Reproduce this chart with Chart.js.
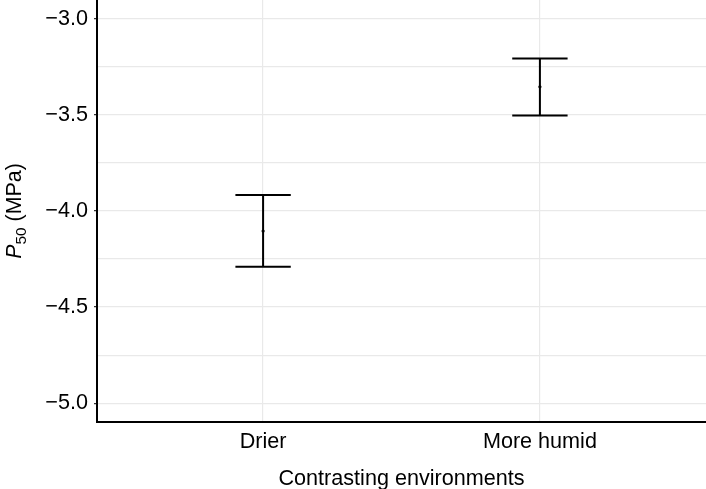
<!DOCTYPE html>
<html>
<head>
<meta charset="utf-8">
<script src="https://cdn.jsdelivr.net/npm/chart.js@4.4.1/dist/chart.umd.min.js"></script>
<style>
html,body{margin:0;padding:0;background:#fff;overflow:hidden;}
#c{display:block;}
</style>
</head>
<body>
<canvas id="c" width="706" height="489"></canvas>
<script>
// Data
const categories = ["Drier", "More humid"];
const means = [-4.104, -3.354];
const lowers = [-4.290, -3.503];
const uppers = [-3.917, -3.206];
const yTicks = [-5.0, -4.75, -4.5, -4.25, -4.0, -3.75, -3.5, -3.25, -3.0];
const yMajor = [-5.0, -4.5, -4.0, -3.5, -3.0];

const FONT = "'Liberation Sans', Arial, Helvetica, sans-serif";
const FS = 21.6;

const errorBars = {
  id: 'errorBars',
  afterDatasetsDraw(chart) {
    const ctx = chart.ctx, xs = chart.scales.x, ys = chart.scales.y;
    ctx.save();
    ctx.strokeStyle = '#000';
    ctx.lineWidth = 2;
    categories.forEach((c, i) => {
      const x = xs.getPixelForValue(i + 1);
      const xl = xs.getPixelForValue(i + 1 - 0.1);
      const xr = xs.getPixelForValue(i + 1 + 0.1);
      const yl = ys.getPixelForValue(lowers[i]);
      const yu = ys.getPixelForValue(uppers[i]);
      ctx.beginPath();
      ctx.moveTo(x, yl); ctx.lineTo(x, yu);
      ctx.moveTo(xl, yl); ctx.lineTo(xr, yl);
      ctx.moveTo(xl, yu); ctx.lineTo(xr, yu);
      ctx.stroke();
    });
    ctx.restore();
  }
};

const yTitle = {
  id: 'yTitle',
  afterDraw(chart) {
    const ctx = chart.ctx, area = chart.chartArea;
    ctx.save();
    ctx.fillStyle = '#000';
    ctx.textBaseline = 'alphabetic';
    const cy = (area.top + area.bottom) / 2;
    ctx.translate(21, cy);
    ctx.rotate(-Math.PI / 2);
    const F = 21.4;
    const f1 = "italic " + F + "px " + FONT, f2 = (F * 0.72) + "px " + FONT, f3 = F + "px " + FONT;
    ctx.font = f1; const w1 = ctx.measureText("P").width;
    ctx.font = f2; const w2 = ctx.measureText("50").width;
    ctx.font = f3; const w3 = ctx.measureText(" (MPa)").width;
    let x = -(w1 + w2 + w3) / 2;
    ctx.font = f1; ctx.fillText("P", x, 0); x += w1;
    ctx.font = f2; ctx.fillText("50", x, 4.5); x += w2;
    ctx.font = f3; ctx.fillText(" (MPa)", x, 0);
    ctx.restore();
  }
};

new Chart(document.getElementById('c'), {
  type: 'scatter',
  data: {
    datasets: [{
      data: means.map((m, i) => ({ x: i + 1, y: m })),
      pointRadius: 1.6,
      pointBackgroundColor: '#000',
      pointBorderColor: '#000',
      pointBorderWidth: 0
    }]
  },
  options: {
    responsive: false,
    animation: false,
    devicePixelRatio: 1,
    layout: { padding: 0, autoPadding: false },
    plugins: { legend: { display: false }, tooltip: { enabled: false } },
    scales: {
      x: {
        type: 'linear',
        min: 0.4, max: 2.6,
        afterBuildTicks: s => { s.ticks = categories.map((c, i) => ({ value: i + 1 })); },
        afterFit: s => { s.height = 67; s.paddingLeft = 0; s.paddingRight = 0; },
        ticks: {
          callback: (v) => categories[v - 1],
          color: '#000',
          font: { family: FONT, size: FS },
          padding: 7,
          maxRotation: 0, autoSkip: false
        },
        grid: { color: '#e9e9e9', lineWidth: 1.2, drawTicks: false },
        border: { color: '#000', width: 2 },
        title: {
          display: true, text: 'Contrasting environments',
          color: '#000', font: { family: FONT, size: FS },
          padding: { top: 0.5, bottom: -3.5 }
        }
      },
      y: {
        type: 'linear',
        min: -5.098, max: -2.902,
        afterBuildTicks: s => { s.ticks = yTicks.map(v => ({ value: v })); },
        afterFit: s => { s.width = 97; s.paddingTop = 0; s.paddingBottom = 0; },
        ticks: {
          callback: (v) => yMajor.some(m => Math.abs(m - v) < 1e-6) ? ('\u2212' + Math.abs(v).toFixed(1)) : '',
          color: '#000',
          font: { family: FONT, size: FS },
          padding: 6,
          autoSkip: false
        },
        grid: {
          color: '#e9e9e9', lineWidth: 1.2,
          tickLength: 3,
          tickColor: ctx => (ctx.tick && yMajor.some(m => Math.abs(m - ctx.tick.value) < 1e-6)) ? '#333' : 'rgba(0,0,0,0)'
        },
        border: { color: '#000', width: 2 }
      }
    }
  },
  plugins: [errorBars, yTitle]
});
</script>
</body>
</html>
